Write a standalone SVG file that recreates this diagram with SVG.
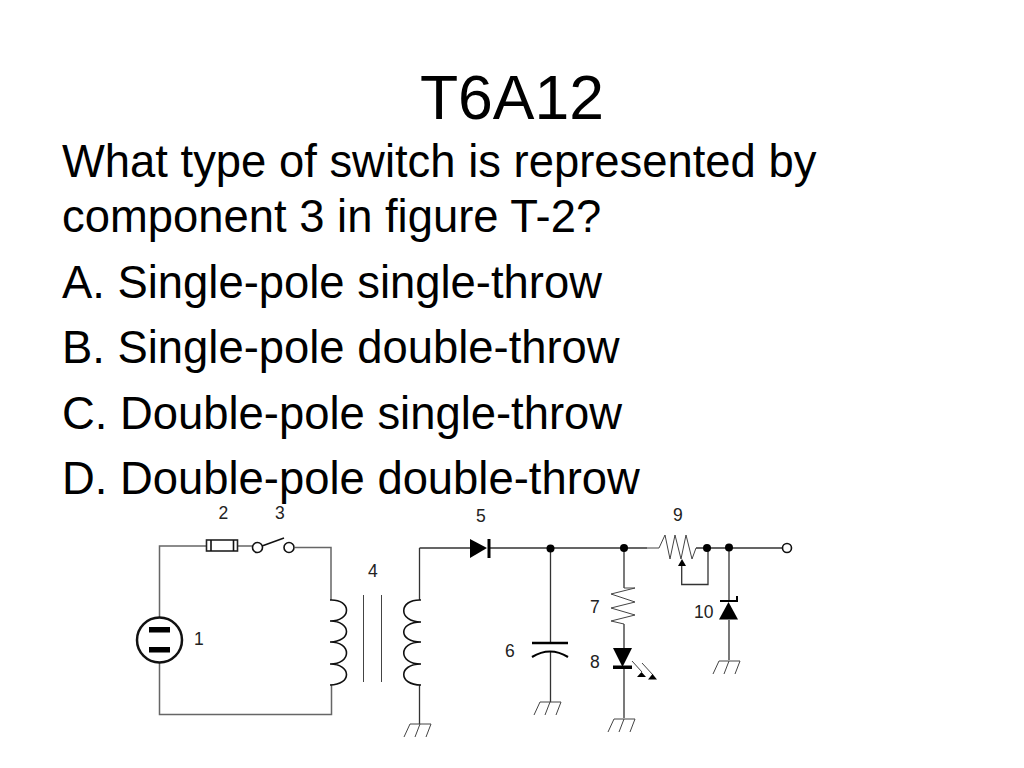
<svg xmlns="http://www.w3.org/2000/svg" width="1024" height="768" viewBox="0 0 1024 768">
<style>
text{font-family:"Liberation Sans",Arial,sans-serif;fill:#000}
.b{font-size:45.4px}
.n{font-size:17.5px;fill:#222}
.w{fill:none;stroke:#333;stroke-width:1.3}
.l{fill:none;stroke:#666;stroke-width:1.5}
.g{fill:none;stroke:#444;stroke-width:1}
.f{fill:#000;stroke:none}
.c{fill:none;stroke:#111;stroke-width:1.6}
</style>
<defs>
<g id="gnd"><path class="g" d="M-10 0H11M-10 0L-16 13M0 0L-5 13M11 0L6 13"/></g>
</defs>
<rect width="1024" height="768" fill="#fff"/>
<g id="question">
<text x="512" y="119" font-size="62.5" text-anchor="middle">T6A12</text>
<text class="b" x="62" y="177">What type of switch is represented by</text>
<text class="b" x="62" y="232">component 3 in figure T-2?</text>
<text class="b" x="62" y="298">A. Single-pole single-throw</text>
<text class="b" x="62" y="363">B. Single-pole double-throw</text>
<text class="b" x="62" y="429">C. Double-pole single-throw</text>
<text class="b" x="62" y="494">D. Double-pole double-throw</text>
</g>
<g id="connectors">
<path class="l" d="M206 546H159.500V617M159.500 662V714.500H331.500V685M238 546H252M295 547.500H331V600"/>
<path class="w" d="M419.500 548V600M419.500 685V724"/>
<path class="w" d="M419.500 548H470M489 548H647M696 548H782"/>
<path class="w" d="M550.500 548V643M550.500 652V702M624 548V588M624 624V649M624 667V718M729 548V601M729 620V660"/>
<path class="w" d="M708 548V584.500H681.700V565"/>
</g>
<g id="n1"><circle cx="159.500" cy="640" r="22.500" fill="none" stroke="#111" stroke-width="2.500"/><rect class="f" x="149" y="627" width="21" height="5.500"/><rect class="f" x="149" y="647" width="21" height="5.500"/><text class="n" x="194" y="645">1</text></g>
<g id="n2"><rect x="206.500" y="540" width="31" height="11" fill="#fff" stroke="#222" stroke-width="1.600"/><path class="c" d="M211 540V551M233.500 540V551" stroke-width="1"/><text class="n" x="218.500" y="519">2</text></g>
<g id="n3"><circle cx="257.500" cy="547.500" r="5" class="c"/><circle cx="289" cy="547.500" r="5" class="c"/><path class="c" d="M262 546L284 538"/><text class="n" x="275" y="519">3</text></g>
<g id="n4"><path class="c" d="M330 600C352 599 352 621 330 621C352 621 352 642 330 642C352 642 352 664 330 664C352 664 352 685 330 685"/><path class="g" d="M363.500 595V682M381.500 595V682"/><path class="c" d="M421 600C398 599 398 622 421 622C398 622 398 642 421 642C398 642 398 664 421 664C398 664 398 685 421 685"/><text class="n" x="368" y="577">4</text><use href="#gnd" x="420" y="724"/></g>
<g id="n5"><path class="f" d="M470 539L487 548L470 558Z"/><rect class="f" x="487.500" y="539" width="3" height="19"/><text class="n" x="476" y="522">5</text></g>
<g id="n6"><circle class="f" cx="550.500" cy="548.500" r="4"/><path d="M532 643H568" stroke="#000" stroke-width="2.500"/><path d="M532 657Q550 646 568 657" fill="none" stroke="#000" stroke-width="2.200"/><text class="n" x="505" y="657">6</text><use href="#gnd" x="550" y="702"/></g>
<g id="n7"><circle class="f" cx="624" cy="548" r="4"/><path class="g" d="M624 588L635 588L611 594L635 602L611 608L635 615L611 621L624 624"/><text class="n" x="590" y="613">7</text></g>
<g id="n8"><path class="f" d="M613 648H632L622.500 667Z"/><rect class="f" x="613" y="665.500" width="19" height="3.500"/><path class="g" d="M632 661L642 672M642 663L653 675"/><path class="f" d="M641.500 672L646 677H637ZM652.500 674L657 679.500H648Z"/><text class="n" x="590" y="668">8</text><use href="#gnd" x="624" y="719"/></g>
<g id="n9"><path class="g" d="M647 548L659 548L665 535L670 559L675 535L681 559L686 535L692 559L696 548"/><path class="f" d="M682 559L686 566H678Z"/><circle class="f" cx="707" cy="548" r="4"/><text class="n" x="673" y="521">9</text></g>
<g id="n10"><circle class="f" cx="729" cy="547.500" r="4"/><path class="f" d="M728.500 602L719 619.500H738Z"/><path d="M720 601H737V596" fill="none" stroke="#000" stroke-width="2"/><text class="n" x="694" y="618">10</text><use href="#gnd" x="729" y="661"/></g>
<g id="out"><circle cx="787" cy="548" r="4.500" class="c"/></g>
</svg>
